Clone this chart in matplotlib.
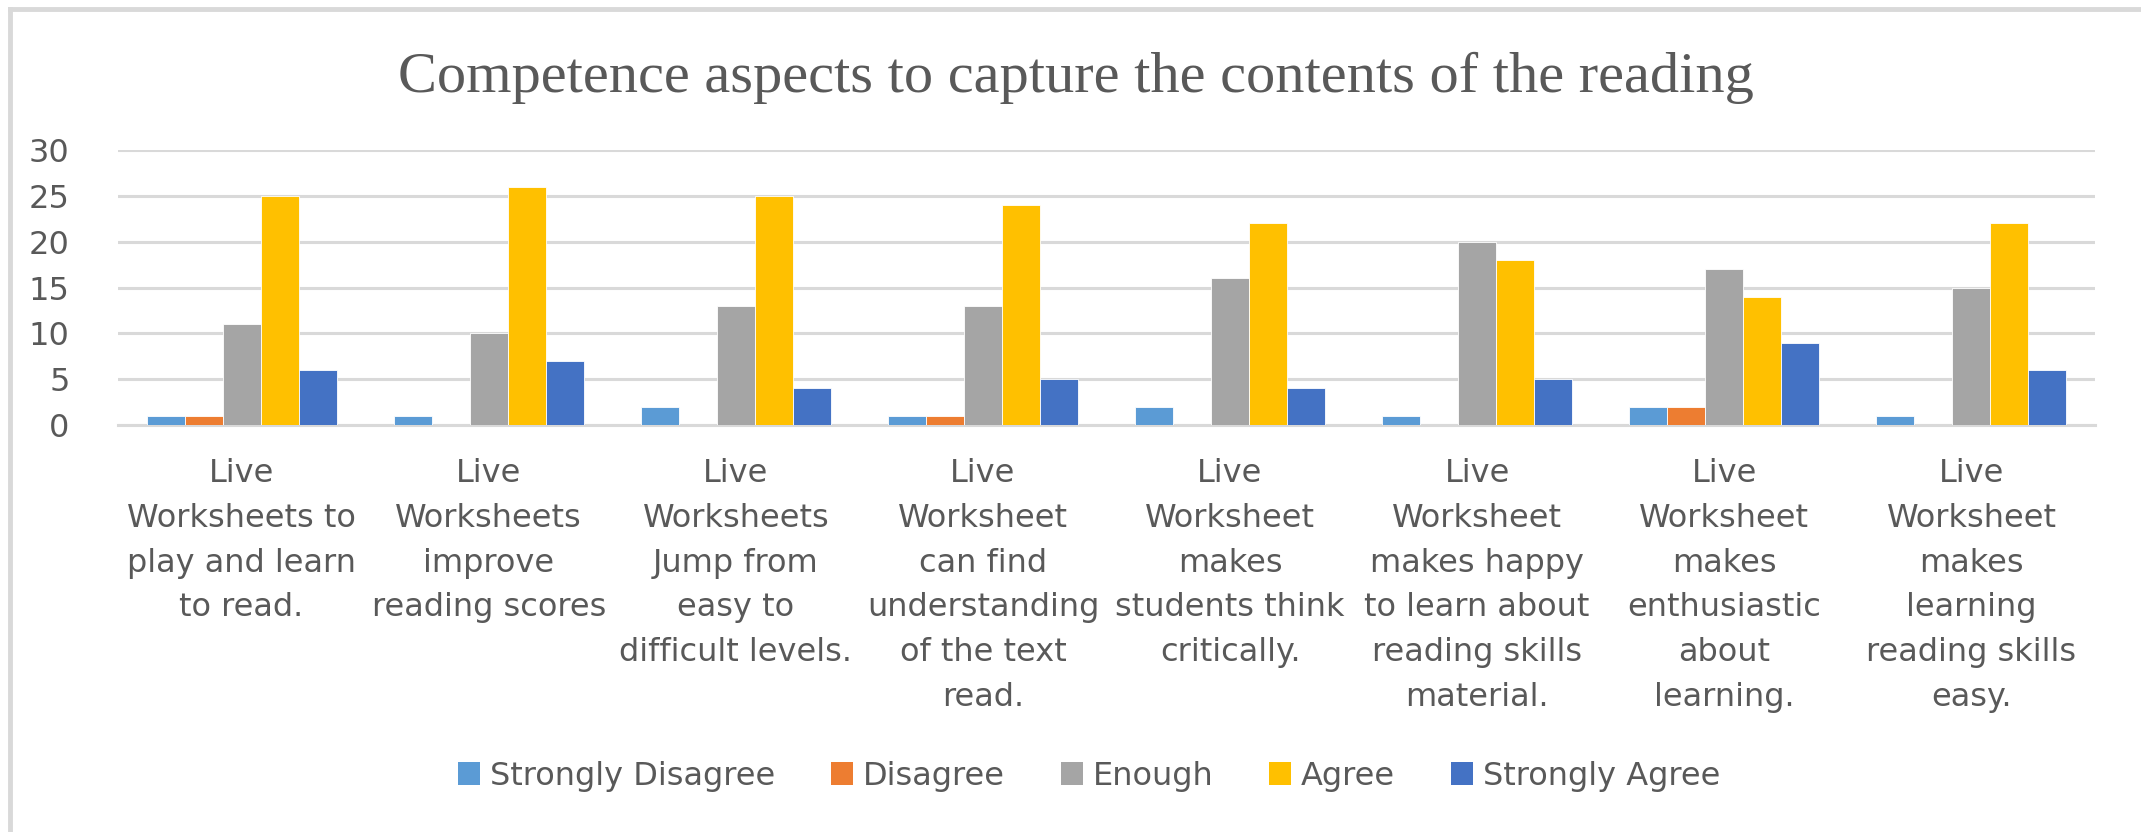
import matplotlib
matplotlib.use("Agg")
import matplotlib.pyplot as plt
import numpy as np
from matplotlib.patches import Patch
from matplotlib.lines import Line2D

categories = [
    "Live\nWorksheets to\nplay and learn\nto read.",
    "Live\nWorksheets\nimprove\nreading scores",
    "Live\nWorksheets\nJump from\neasy to\ndifficult levels.",
    "Live\nWorksheet\ncan find\nunderstanding\nof the text\nread.",
    "Live\nWorksheet\nmakes\nstudents think\ncritically.",
    "Live\nWorksheet\nmakes happy\nto learn about\nreading skills\nmaterial.",
    "Live\nWorksheet\nmakes\nenthusiastic\nabout\nlearning.",
    "Live\nWorksheet\nmakes\nlearning\nreading skills\neasy.",
]
series_names = ["Strongly Disagree", "Disagree", "Enough", "Agree", "Strongly Agree"]
strongly_disagree = [1, 1, 2, 1, 2, 1, 2, 1]
disagree = [1, 0, 0, 1, 0, 0, 2, 0]
enough = [11, 10, 13, 13, 16, 20, 17, 15]
agree = [25, 26, 25, 24, 22, 18, 14, 22]
strongly_agree = [6, 7, 4, 5, 4, 5, 9, 6]
yticks = [0, 5, 10, 15, 20, 25, 30]

colors = ["#5B9BD5", "#ED7D31", "#A5A5A5", "#FFC000", "#4472C4"]
text_color = "#595959"
grid_color = "#D9D9D9"
FONT = "DejaVu Sans"

W, H = 2141, 832
fig = plt.figure(figsize=(W / 100, H / 100), dpi=100)
fig.patch.set_facecolor("white")

# chart-area border (left and top visible)
fig.add_artist(Line2D([10 / W, 10 / W], [0, 1 - 9 / H], transform=fig.transFigure,
                      color="#D9D9D9", lw=3.5))
fig.add_artist(Line2D([10 / W, 1], [1 - 9 / H, 1 - 9 / H], transform=fig.transFigure,
                      color="#D9D9D9", lw=3.5))

ax = fig.add_axes([118 / W, 1 - 425 / H, (2095 - 118) / W, (425 - 150) / H])

data = [strongly_disagree, disagree, enough, agree, strongly_agree]
n = len(categories)
x = np.arange(n)
bw = 1 / 6.5
for i, (vals, c, name) in enumerate(zip(data, colors, series_names)):
    ax.bar(x + (i - 2) * bw, vals, width=bw, color=c, label=name,
           edgecolor="white", linewidth=0.6, zorder=3)

ax.set_xlim(-0.5, n - 0.5)
ax.set_ylim(0, 30)
ax.set_yticks(yticks)
ax.set_yticklabels([str(v) for v in yticks])
ax.yaxis.grid(True, color=grid_color, linewidth=2.2, zorder=0)
ax.set_axisbelow(True)
for s in ["left", "right", "top"]:
    ax.spines[s].set_visible(False)
ax.spines["bottom"].set_color(grid_color)
ax.spines["bottom"].set_linewidth(2.2)
ax.tick_params(axis="y", length=0, pad=35, labelsize=23, labelcolor=text_color)
ax.tick_params(axis="x", length=0, pad=24, labelsize=23, labelcolor=text_color)
ax.set_xticks(x)
ax.set_xticklabels(categories, linespacing=1.57)
for lab in ax.get_xticklabels() + ax.get_yticklabels():
    lab.set_fontfamily(FONT)

fig.text(0.5 * (386 + 1766) / W, 1 - 78 / H, "Competence aspects to capture the contents of the reading",
         ha="center", va="center", fontsize=42, color=text_color, family="Liberation Serif")

handles = [Patch(facecolor=c, edgecolor="none") for c in colors]
fig.legend(handles, series_names, loc="center", bbox_to_anchor=(1089 / W, 1 - 776 / H),
           ncol=5, frameon=False, handlelength=0.7, handleheight=0.7, handletextpad=0.3,
           columnspacing=1.75, prop={"family": FONT, "size": 23}, labelcolor=text_color)

fig.savefig("out.png", dpi=100, facecolor="white")
